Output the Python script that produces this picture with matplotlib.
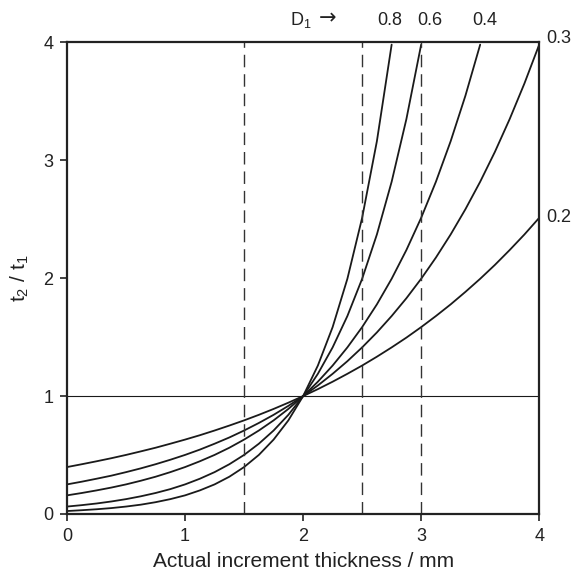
import numpy as np
import matplotlib
matplotlib.use("Agg")
import matplotlib.pyplot as plt

plt.rcParams['font.family'] = ['Liberation Sans', 'DejaVu Sans']
plt.rcParams['mathtext.default'] = 'regular'

# thickness samples (mm) and ratio t2/t1 for each D1
x = [0.0, 0.125, 0.25, 0.375, 0.5, 0.625, 0.75, 0.875, 1.0, 1.125, 1.25, 1.375, 1.5,
     1.625, 1.75, 1.875, 2.0, 2.125, 2.25, 2.375, 2.5, 2.625, 2.75, 2.875, 3.0,
     3.125, 3.25, 3.375, 3.5, 3.625, 3.75, 3.875, 4.0]
d02 = [0.398, 0.422, 0.447, 0.473, 0.501, 0.531, 0.562, 0.596, 0.631, 0.668, 0.708,
       0.750, 0.794, 0.841, 0.891, 0.944, 1.0, 1.059, 1.122, 1.189, 1.259, 1.334,
       1.413, 1.496, 1.585, 1.679, 1.778, 1.884, 1.995, 2.113, 2.239, 2.371, 2.512]
d03 = [0.251, 0.274, 0.299, 0.325, 0.355, 0.387, 0.422, 0.460, 0.501, 0.546, 0.596,
       0.649, 0.708, 0.772, 0.841, 0.917, 1.0, 1.090, 1.189, 1.296, 1.413, 1.540,
       1.679, 1.830, 1.995, 2.175, 2.371, 2.585, 2.818, 3.072, 3.350, 3.652, 3.981]
d04 = [0.158, 0.178, 0.200, 0.224, 0.251, 0.282, 0.316, 0.355, 0.398, 0.447, 0.501,
       0.562, 0.631, 0.708, 0.794, 0.891, 1.0, 1.122, 1.259, 1.413, 1.585, 1.778,
       1.995, 2.239, 2.512, 2.818, 3.162, 3.548, 3.981]
d06 = [0.063, 0.075, 0.089, 0.106, 0.126, 0.150, 0.178, 0.211, 0.251, 0.299, 0.355,
       0.422, 0.501, 0.596, 0.708, 0.841, 1.0, 1.189, 1.413, 1.679, 1.995, 2.371,
       2.818, 3.350, 3.981]
d08 = [0.025, 0.032, 0.040, 0.050, 0.063, 0.079, 0.100, 0.126, 0.158, 0.200, 0.251,
       0.316, 0.398, 0.501, 0.631, 0.794, 1.0, 1.259, 1.585, 1.995, 2.512, 3.162, 3.981]
curves = [d02, d03, d04, d06, d08]
labels = ["0.2", "0.3", "0.4", "0.6", "0.8"]
dashed_x = [1.5, 2.5, 3.0]

ink = "#222222"

fig = plt.figure(figsize=(5.73, 5.73), dpi=100)
ax = fig.add_axes([0.117, 0.103, 0.824, 0.823])

for ys in curves:
    ax.plot(x[:len(ys)], ys, color="#1a1a1a", linewidth=1.3, solid_capstyle="round")

ax.axhline(1.0, color="#1a1a1a", linewidth=0.8)
for xv in dashed_x:
    ax.axvline(xv, color="#333333", linewidth=1.0, dashes=(9, 5))

ax.set_xlim(0, 4)
ax.set_ylim(0, 4)
ax.set_xticks([0, 1, 2, 3, 4])
ax.set_yticks([0, 1, 2, 3, 4])
ax.tick_params(direction="out", length=5, width=1.2, pad=5, labelsize=13, colors=ink)
for s in ax.spines.values():
    s.set_linewidth(1.6)
    s.set_color(ink)

ax.set_xlabel("Actual increment thickness / mm", fontsize=15, color=ink, labelpad=5)
ax.set_ylabel("t$_2$ / t$_1$", fontsize=15, color=ink, labelpad=9)

# D1 labels at the curve ends
tk = dict(fontsize=13, color=ink, clip_on=False)
ax.text(2.73, 4.19, labels[4], ha="center", va="center", **tk)
ax.text(3.07, 4.19, labels[3], ha="center", va="center", **tk)
ax.text(3.54, 4.19, labels[2], ha="center", va="center", **tk)
ax.text(4.06, 4.03, labels[1], ha="left", va="center", **tk)
ax.text(4.06, d02[-1], labels[0], ha="left", va="center", **tk)
ax.text(1.98, 4.19, "D$_1$", ha="center", va="center", **tk)
ax.text(2.21, 4.20, "→", ha="center", va="center", fontsize=15, color=ink,
        family="DejaVu Sans", clip_on=False)

fig.savefig("out.png", dpi=100)
